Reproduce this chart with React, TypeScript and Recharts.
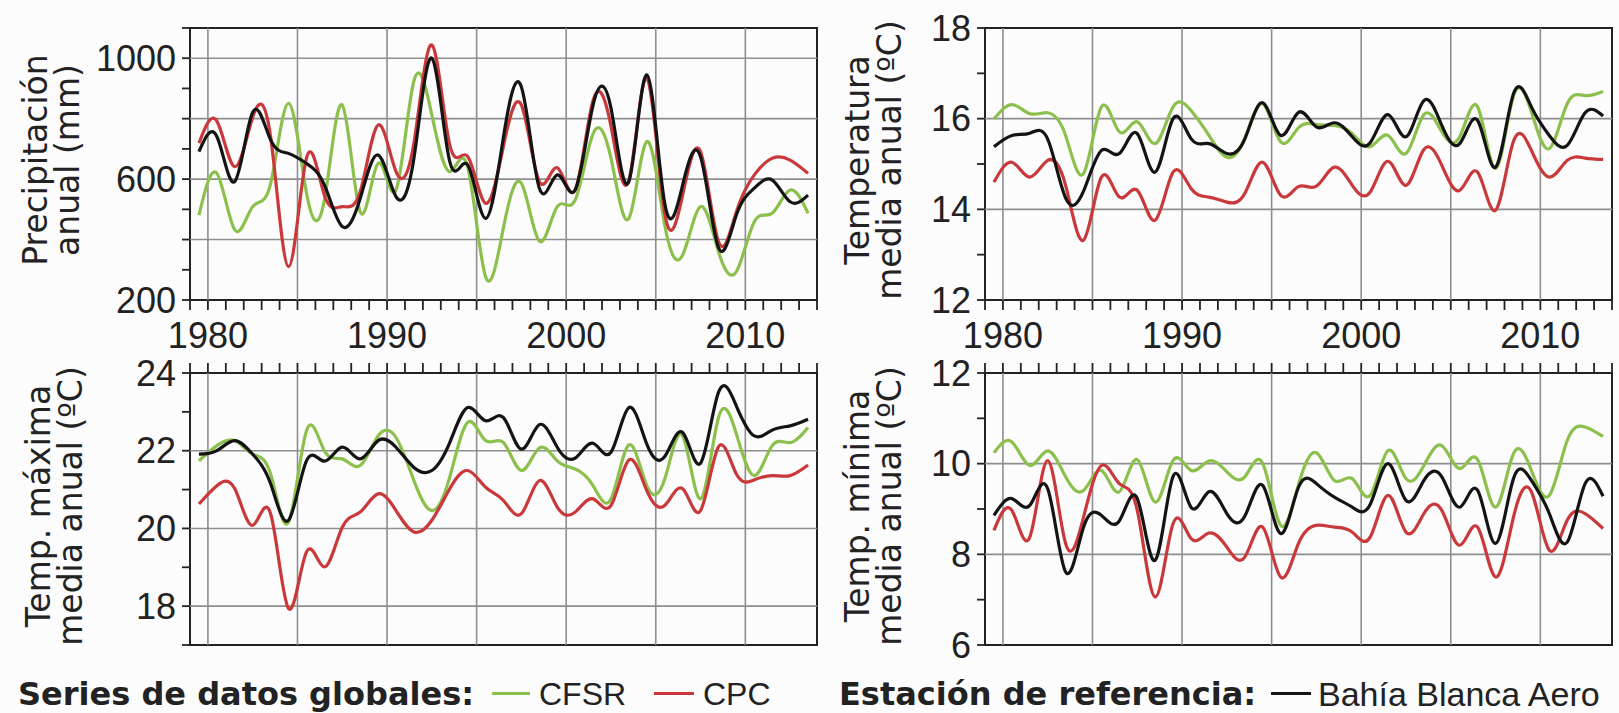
import React from 'react';
import { LineChart, Line, XAxis, YAxis, ReferenceLine, ReferenceArea } from 'recharts';

const YEARS = [
  1979, 1980, 1981, 1982, 1983, 1984, 1985, 1986, 1987, 1988, 1989, 1990, 1991, 1992, 1993, 1994, 1995, 1996,
  1997, 1998, 1999, 2000, 2001, 2002, 2003, 2004, 2005, 2006, 2007, 2008, 2009, 2010, 2011, 2012, 2013,
];
const TICK_YEARS = [...YEARS, 2014];
const GRID_YEARS = [1980, 1985, 1990, 1995, 2000, 2005, 2010];
const LABEL_YEARS = [1980, 1990, 2000, 2010];

// Precipitación anual (mm)
const PRECIP_CFSR = [481, 619, 432, 509, 585, 851, 555, 530, 845, 492, 652, 564, 925, 812, 625, 641, 277, 440, 586, 395, 509, 531, 750, 669, 470, 724, 448, 349, 509, 360, 294, 459, 487, 564, 487];
const PRECIP_CPC = [719, 792, 641, 805, 740, 310, 669, 547, 509, 558, 779, 625, 720, 1044, 713, 675, 520, 710, 845, 592, 638, 564, 860, 775, 597, 934, 487, 547, 691, 393, 492, 614, 669, 663, 619];
const PRECIP_STATION = [691, 741, 592, 821, 730, 685, 652, 581, 443, 536, 680, 542, 669, 1000, 658, 647, 470, 740, 905, 570, 614, 564, 845, 835, 592, 945, 520, 581, 674, 373, 481, 570, 597, 525, 547];

// Temperatura media anual (ºC)
const TMEAN_CFSR = [15.99, 16.31, 16.11, 16.13, 15.63, 14.79, 16.26, 15.71, 15.93, 15.45, 16.26, 16.18, 15.63, 15.15, 15.56, 16.33, 15.49, 15.8, 15.87, 15.85, 15.67, 15.38, 15.63, 15.23, 16.09, 15.71, 15.6, 16.26, 14.9, 16.5, 16.15, 15.34, 16.33, 16.51, 16.6];
const TMEAN_CPC = [14.6, 15.04, 14.71, 15.08, 14.53, 13.32, 14.71, 14.27, 14.42, 13.76, 14.82, 14.46, 14.27, 14.16, 14.35, 15.04, 14.31, 14.5, 14.51, 14.93, 14.53, 14.38, 15.06, 14.53, 15.32, 14.97, 14.42, 14.82, 13.98, 15.5, 15.3, 14.71, 15.08, 15.13, 15.1];
const TMEAN_STATION = [15.38, 15.63, 15.68, 15.55, 14.25, 14.4, 15.3, 15.23, 15.67, 14.82, 16.0, 15.56, 15.45, 15.23, 15.55, 16.35, 15.63, 16.14, 15.82, 15.91, 15.6, 15.47, 16.09, 15.6, 16.4, 15.85, 15.45, 15.96, 14.93, 16.55, 16.26, 15.63, 15.41, 16.13, 16.06];

// Temp. máxima media anual (ºC)
const TMAX_CFSR = [21.74, 22.13, 22.26, 21.91, 21.4, 20.16, 22.51, 22.0, 21.79, 21.62, 22.38, 22.34, 21.23, 20.46, 21.32, 22.73, 22.26, 22.21, 21.49, 22.07, 21.74, 21.53, 21.1, 20.76, 22.15, 21.1, 21.27, 22.38, 20.76, 22.85, 22.43, 21.36, 22.13, 22.21, 22.6];
const TMAX_CPC = [20.63, 21.1, 21.02, 20.08, 20.38, 17.94, 19.39, 19.01, 20.03, 20.42, 20.89, 20.46, 19.91, 20.21, 21.02, 21.49, 21.06, 20.72, 20.38, 21.23, 20.55, 20.42, 20.76, 20.59, 21.76, 20.97, 20.59, 21.02, 20.46, 22.1, 21.4, 21.25, 21.36, 21.36, 21.63];
const TMAX_STATION = [21.91, 22.0, 22.26, 21.91, 21.15, 20.21, 21.74, 21.73, 22.09, 21.79, 22.26, 22.09, 21.57, 21.49, 22.21, 23.11, 22.77, 22.85, 22.04, 22.67, 22.09, 21.81, 22.19, 21.96, 23.11, 22.17, 21.85, 22.47, 21.68, 23.5, 23.15, 22.38, 22.53, 22.64, 22.81];

// Temp. mínima media anual (ºC)
const TMIN_CFSR = [10.24, 10.48, 9.96, 10.28, 9.71, 9.41, 9.85, 9.38, 10.09, 9.15, 10.07, 9.85, 10.06, 9.82, 9.71, 10.01, 8.64, 9.54, 10.24, 9.63, 9.67, 9.3, 10.29, 9.67, 9.96, 10.4, 9.89, 10.09, 9.04, 10.22, 9.85, 9.3, 10.51, 10.81, 10.6];
const TMIN_CPC = [8.53, 8.97, 8.38, 10.07, 8.24, 8.82, 9.96, 9.56, 8.97, 7.06, 8.68, 8.35, 8.47, 8.16, 7.94, 8.6, 7.5, 8.24, 8.64, 8.6, 8.49, 8.38, 9.3, 8.49, 8.9, 8.97, 8.2, 8.6, 7.5, 8.82, 9.38, 8.09, 8.75, 8.9, 8.57];
const TMIN_STATION = [8.86, 9.23, 9.08, 9.45, 7.61, 8.6, 8.86, 8.74, 9.23, 7.87, 9.72, 9.04, 9.38, 8.9, 8.84, 9.52, 8.46, 9.48, 9.56, 9.26, 9.04, 9.1, 10.0, 9.19, 9.63, 9.71, 9.04, 9.41, 8.24, 9.67, 9.63, 8.9, 8.27, 9.56, 9.28];

const GREEN = '#8cc04c';
const RED = '#c9393b';
const BLACK = '#141414';
const GRID = '#8e8e8e';
const INK = '#222';
const TICK_FONT = '"Liberation Sans", Arial, sans-serif';
const TITLE_FONT = '"DejaVu Sans", Verdana, sans-serif';

const rows = (a: number[], b: number[], c: number[]) =>
  YEARS.map((y, i) => ({ x: y + 0.5, cfsr: a[i], cpc: b[i], station: c[i] }));

interface PanelProps {
  left: number;
  top: number;
  data: { x: number; cfsr: number; cpc: number; station: number }[];
  domain: [number, number];
  ticks: number[];
  labels: number[];
  grid: number[];
  upper: boolean;
}

const PLOT_W = 627;
const PLOT_H = 272;
const Y_W = 110;

const Panel: React.FC<PanelProps> = ({ left, top, data, domain, ticks, labels, grid, upper }) => {
  const margin = upper ? { top: 20, right: 10, bottom: 0, left: 0 } : { top: 5, right: 10, bottom: 28, left: 0 };
  const xH = upper ? 64 : 20;
  const width = Y_W + PLOT_W + margin.right;
  const height = margin.top + PLOT_H + xH + margin.bottom;

  const xTick = (p: any) => {
    const v = p.payload.value;
    const x = p.x;
    const y = p.y;
    return (
      <g>
        <line x1={x} x2={x} y1={y} y2={upper ? y + 10 : y - 10} stroke={INK} strokeWidth={1.8} />
        {upper && LABEL_YEARS.includes(v) ? (
          <text x={x} y={y + 35} dy="0.35em" textAnchor="middle" fontFamily={TICK_FONT} fontSize={36} fill={INK}>
            {v}
          </text>
        ) : null}
      </g>
    );
  };

  const yTick = (p: any) => {
    const v = p.payload.value;
    return (
      <g>
        <line x1={p.x - 8} x2={p.x} y1={p.y} y2={p.y} stroke={INK} strokeWidth={1.8} />
        {labels.includes(v) ? (
          <text x={p.x - 14} y={p.y} dy="0.35em" textAnchor="end" fontFamily={TICK_FONT} fontSize={36} fill={INK}>
            {v}
          </text>
        ) : null}
      </g>
    );
  };

  return (
    <div style={{ position: 'absolute', left: left - Y_W, top: top - margin.top - (upper ? 0 : xH) }}>
      <LineChart width={width} height={height} data={data} margin={margin}>
        <XAxis
          type="number"
          dataKey="x"
          domain={[1979, 2014]}
          ticks={TICK_YEARS}
          interval={0}
          orientation={upper ? 'bottom' : 'top'}
          height={xH}
          tickLine={false}
          axisLine={false}
          tickSize={0}
          tickMargin={0}
          tick={xTick}
          allowDataOverflow
        />
        <YAxis
          type="number"
          domain={domain}
          ticks={ticks}
          interval={0}
          width={Y_W}
          tickLine={false}
          axisLine={false}
          tickSize={0}
          tickMargin={0}
          tick={yTick}
          allowDataOverflow
        />
        {GRID_YEARS.map((g) => (
          <ReferenceLine key={'v' + g} x={g} stroke={GRID} strokeWidth={1.6} />
        ))}
        {grid.map((g) => (
          <ReferenceLine key={'h' + g} y={g} stroke={GRID} strokeWidth={1.6} />
        ))}
        <Line type="natural" dataKey="cfsr" stroke={GREEN} strokeWidth={3.2} dot={false} activeDot={false} isAnimationActive={false} />
        <Line type="natural" dataKey="cpc" stroke={RED} strokeWidth={3.2} dot={false} activeDot={false} isAnimationActive={false} />
        <Line type="natural" dataKey="station" stroke={BLACK} strokeWidth={3.2} dot={false} activeDot={false} isAnimationActive={false} />
        <ReferenceArea x1={1979} x2={2014} y1={domain[0]} y2={domain[1]} fill="none" fillOpacity={0} stroke={INK} strokeWidth={2} />
      </LineChart>
    </div>
  );
};

const Title: React.FC<{ cx: number; cy: number; lines: string[] }> = ({ cx, cy, lines }) => (
  <div
    style={{
      position: 'absolute',
      left: cx,
      top: cy,
      transform: 'translate(-50%, -50%) rotate(-90deg)',
      fontFamily: TITLE_FONT,
      fontSize: 33,
      lineHeight: '32px',
      color: INK,
      whiteSpace: 'nowrap',
      textAlign: 'center',
    }}
  >
    {lines.map((l) => (
      <div key={l}>{l}</div>
    ))}
  </div>
);

const Swatch: React.FC<{ left: number; width: number; color: string }> = ({ left, width, color }) => (
  <div style={{ position: 'absolute', left, top: 692, width, height: 3, background: color }} />
);

const legendText = (left: number, text: string, bold: boolean, size: number) => (
  <div
    style={{
      position: 'absolute',
      left,
      top: 694,
      transform: 'translateY(-50%)',
      fontFamily: bold ? TITLE_FONT : TICK_FONT,
      fontWeight: bold ? 700 : 400,
      fontSize: size,
      color: INK,
      whiteSpace: 'nowrap',
      lineHeight: 1,
    }}
  >
    {text}
  </div>
);

export default function App() {
  return (
    <div style={{ position: 'fixed', left: 0, top: 0, width: 1619, height: 713, background: '#fcfcfc', overflow: 'hidden' }}>
      <Panel
        left={190}
        top={28}
        data={rows(PRECIP_CFSR, PRECIP_CPC, PRECIP_STATION)}
        domain={[200, 1100]}
        ticks={[200, 300, 400, 500, 600, 700, 800, 900, 1000, 1100]}
        labels={[200, 600, 1000]}
        grid={[400, 600, 800, 1000]}
        upper
      />
      <Panel
        left={985}
        top={28}
        data={rows(TMEAN_CFSR, TMEAN_CPC, TMEAN_STATION)}
        domain={[12, 18]}
        ticks={[12, 13, 14, 15, 16, 17, 18]}
        labels={[12, 14, 16, 18]}
        grid={[14, 16]}
        upper
      />
      <Panel
        left={190}
        top={373}
        data={rows(TMAX_CFSR, TMAX_CPC, TMAX_STATION)}
        domain={[17, 24]}
        ticks={[17, 18, 19, 20, 21, 22, 23, 24]}
        labels={[18, 20, 22, 24]}
        grid={[18, 20, 22]}
        upper={false}
      />
      <Panel
        left={985}
        top={373}
        data={rows(TMIN_CFSR, TMIN_CPC, TMIN_STATION)}
        domain={[6, 12]}
        ticks={[6, 7, 8, 9, 10, 11, 12]}
        labels={[6, 8, 10, 12]}
        grid={[8, 10]}
        upper={false}
      />

      <Title cx={52} cy={160} lines={['Precipitación', 'anual (mm)']} />
      <Title cx={874} cy={160} lines={['Temperatura', 'media anual (ºC)']} />
      <Title cx={55} cy={506} lines={['Temp. máxima', 'media anual (ºC)']} />
      <Title cx={874} cy={506} lines={['Temp. mínima', 'media anual (ºC)']} />

      {legendText(18, 'Series de datos globales:', true, 32)}
      <Swatch left={492} width={38} color={GREEN} />
      {legendText(539, 'CFSR', false, 32)}
      <Swatch left={654} width={40} color={RED} />
      {legendText(703, 'CPC', false, 32)}
      {legendText(839, 'Estación de referencia:', true, 32)}
      <Swatch left={1271} width={40} color={BLACK} />
      {legendText(1318, 'Bahía Blanca Aero', false, 34)}
    </div>
  );
}
